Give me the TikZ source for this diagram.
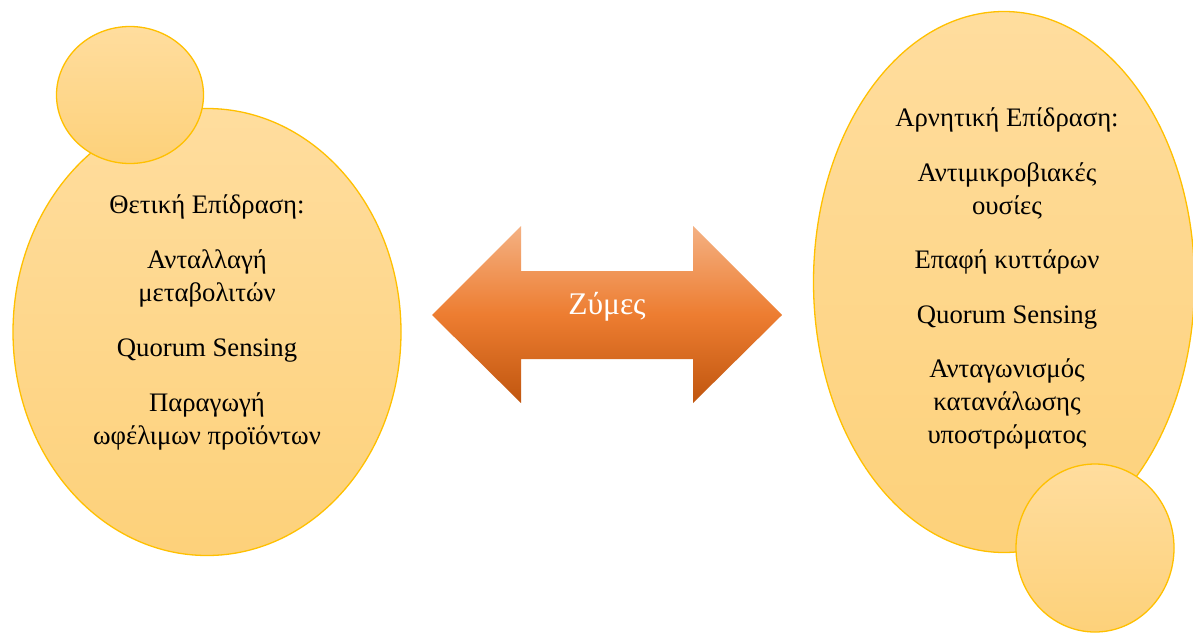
\documentclass[tikz,border=0pt]{standalone}
\usepackage{fontspec}
\setmainfont{Liberation Serif}
\usetikzlibrary{shapes.geometric}
\definecolor{ellTop}{HTML}{FFDD9E}
\definecolor{ellBot}{HTML}{FDD17A}
\definecolor{ellLine}{HTML}{FFC000}
\definecolor{arTop}{HTML}{F4B183}
\definecolor{arMid}{HTML}{ED7D31}
\definecolor{arBot}{HTML}{C0560F}
\tikzset{
  blob/.style={ellipse, draw=ellLine, line width=1.3pt, top color=ellTop, bottom color=ellBot, inner sep=0pt},
  txt/.style={anchor=base, inner sep=0pt, font=\fontsize{26.7}{33}\selectfont, text=black},
  arrowtxt/.style={anchor=base, inner sep=0pt, font=\fontsize{31.5}{36}\selectfont, text=white}
}
\begin{document}
\begin{tikzpicture}[x=1pt,y=-1pt]
\useasboundingbox (0,0) rectangle (1193,632);
\fill[white] (0,0) rectangle (1193,632);
% left side
\node[blob, minimum width=388pt, minimum height=447pt] (lbig) at (207,332) {};
\node[blob, minimum width=147pt, minimum height=137pt] (lsmall) at (130,95) {};
% right side
\node[blob, minimum width=381pt, minimum height=541pt] (rbig) at (1004,282) {};
\node[blob, minimum width=158pt, minimum height=168pt] (rsmall) at (1095,548) {};
% double arrow
\shade[top color=arTop, bottom color=arBot, middle color=arMid]
  (432,315) -- (521,226) -- (521,271) -- (693,271) -- (693,226) -- (782,315)
  -- (693,403) -- (693,359) -- (521,359) -- (521,403) -- cycle;
\coordinate (arc) at (607,315);
\node[arrowtxt] (zymes) at (607,314) {Ζύμες};
% left texts
\node[txt] (l1) at (207,213) {Θετική Επίδραση:};
\node[txt] (l2) at (207,268) {Ανταλλαγή};
\node[txt] (l3) at (207,301) {μεταβολιτών};
\node[txt] (l4) at (207,356) {Quorum Sensing};
\node[txt] (l5) at (207,411) {Παραγωγή};
\node[txt] (l6) at (207,444) {ωφέλιμων προϊόντων};
% right texts
\node[txt] (r1) at (1007,126) {Αρνητική Επίδραση:};
\node[txt] (r2) at (1007,181) {Αντιμικροβιακές};
\node[txt] (r3) at (1007,214) {ουσίες};
\node[txt] (r4) at (1007,268) {Επαφή κυττάρων};
\node[txt] (r5) at (1007,323) {Quorum Sensing};
\node[txt] (r6) at (1007,377) {Ανταγωνισμός};
\node[txt] (r7) at (1007,410) {κατανάλωσης};
\node[txt] (r8) at (1007,443) {υποστρώματος};
\end{tikzpicture}
\end{document}
